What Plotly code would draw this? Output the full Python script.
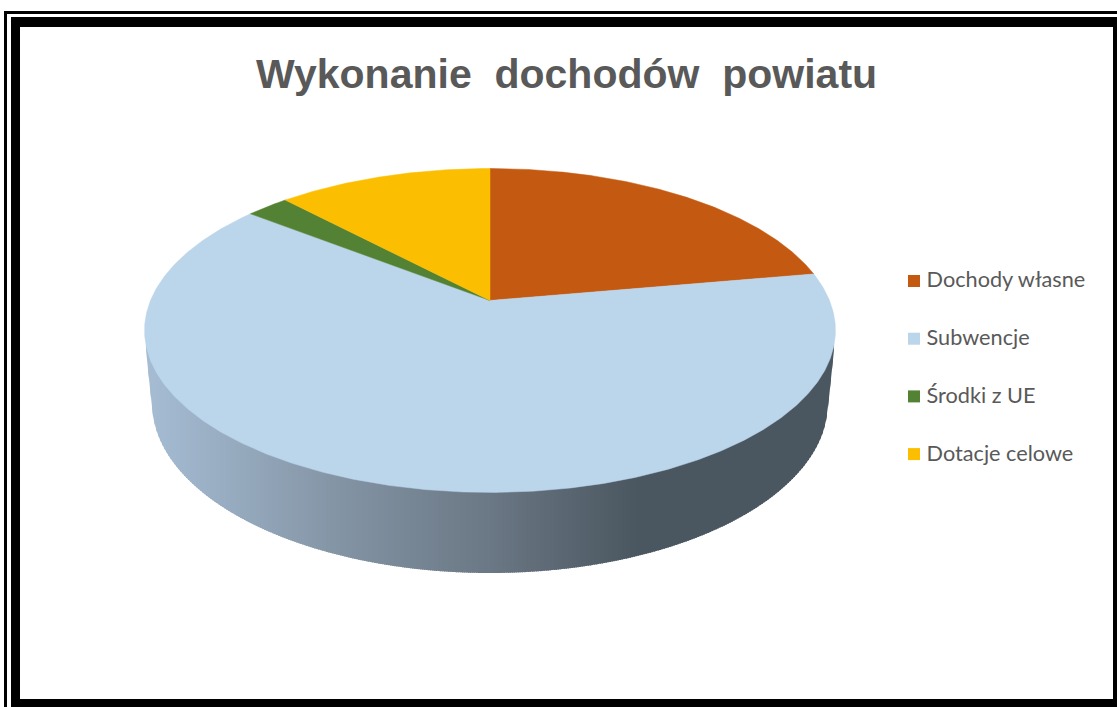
import numpy as np
import plotly.graph_objects as go

# Data
categories = ["Dochody własne", "Subwencje", "Środki z UE", "Dotacje celowe"]
values = [22.2, 63.4, 2.4, 12.0]
colors = ["#C45911", "#BBD5EB", "#548235", "#FBBE00"]
title_text = "Wykonanie\u00a0 dochodów\u00a0 powiatu"

# Layout (page pixels)
W, H = 1117, 707
CX, CY = 490, 300.5        # pie centre (perspective apex)
A, B, K = 339.5, 156.4, 0.185
BOT_CY, BOT_A, BOT_B = 403.0, 338.0, 170.0
EDGE_L, EDGE_R = 146.0, 834.0
EDGE_TOP_Y = 350.0
TANGENT_DX = 337.5
side_stops_x = [146, 240, 330, 490, 640, 835]
side_stops_rgb = [(166, 189, 212), (150, 170, 190), (133, 150, 167), (107, 120, 133), (74, 87, 96), (75, 88, 97)]
LEG_X, LEG_Y0, LEG_STEP = 914, 281, 57.7
LEG_TEXT_X, LEG_TEXT_DY = 921, 1


def project(theta):
    X, Y = np.sin(theta), np.cos(theta)
    w = 1 + K * Y
    return CX + A * X / w, CY - B * Y / w


def bottom_edge(x):
    dx = np.abs(x - CX)
    tangent_y = BOT_CY + BOT_B * np.sqrt(1 - (TANGENT_DX / BOT_A) ** 2)
    if dx <= TANGENT_DX:
        return BOT_CY + BOT_B * np.sqrt(1 - (dx / BOT_A) ** 2)
    half = (EDGE_R - EDGE_L) / 2
    t = (dx - TANGENT_DX) / (half - TANGENT_DX)
    return tangent_y + t * (EDGE_TOP_Y - tangent_y)


fig = go.Figure()

# Side wall: narrow strips following the gradient
xs = np.arange(EDGE_L, EDGE_R, 2.0)
for x0 in xs:
    x1 = min(x0 + 3.0, EDGE_R)
    sx = np.linspace(x0, x1, 4)
    rgb = [np.interp(x0 + 1.0, side_stops_x, [c[i] for c in side_stops_rgb]) for i in range(3)]
    col = "rgb(%d,%d,%d)" % tuple(rgb)
    fig.add_trace(go.Scatter(
        x=np.r_[x0, x1, sx[::-1]], y=np.r_[330, 330, [bottom_edge(v) for v in sx[::-1]]],
        mode="lines", fill="toself", fillcolor=col, line=dict(width=0),
        hoverinfo="skip", showlegend=False))

# Top face wedges, computed from the values
total = sum(values)
start = 0.0
for name, v, c in zip(categories, values, colors):
    t0, t1 = start, start + v / total * 2 * np.pi
    th = np.linspace(t0, t1, max(8, int(v * 8)))
    px, py = project(th)
    fig.add_trace(go.Scatter(
        x=np.r_[CX, px, CX], y=np.r_[CY, py, CY],
        mode="lines", fill="toself", fillcolor=c, line=dict(width=0.5, color=c),
        name=name, hoverinfo="name", showlegend=False))
    start = t1

# Legend entries
for i, (name, c) in enumerate(zip(categories, colors)):
    y = LEG_Y0 + i * LEG_STEP
    fig.add_trace(go.Scatter(
        x=[LEG_X], y=[y], mode="markers",
        marker=dict(symbol="square", size=12, color=c),
        hoverinfo="skip", showlegend=False))
    fig.add_trace(go.Scatter(
        x=[LEG_TEXT_X], y=[y + LEG_TEXT_DY], mode="text",
        text=["\u00a0" + name], textposition="middle right",
        textfont=dict(family="Lato", size=21.7, color="#595959"),
        hoverinfo="skip", showlegend=False))

# Double frame
frame = [
    (4, 11, W + 8, H + 8, "#000000"), (7, 14, W + 8, H + 8, "#FFFFFF"),
    (11, 17, W + 8, H + 8, "#000000"), (20, 27, 1113, 699, "#FFFFFF"),
]
shapes = [dict(type="rect", xref="x", yref="y", x0=a, y0=b, x1=c, y1=d,
               fillcolor=col, line=dict(width=0), layer="below")
          for a, b, c, d, col in frame]

fig.update_layout(
    width=W, height=H, margin=dict(l=0, r=0, t=0, b=0),
    paper_bgcolor="#FFFFFF", plot_bgcolor="#FFFFFF", showlegend=False,
    xaxis=dict(range=[0, W], visible=False, fixedrange=True),
    yaxis=dict(range=[H, 0], visible=False, fixedrange=True),
    shapes=shapes,
    annotations=[dict(text="<b>%s</b>" % title_text, xref="x", yref="y", x=566, y=74,
                      showarrow=False, xanchor="center", yanchor="middle",
                      font=dict(family="Liberation Sans", size=41, color="#595959"))],
)
fig.write_html("out.html", config={"displayModeBar": False},
               post_script="document.body.style.margin='0';")
